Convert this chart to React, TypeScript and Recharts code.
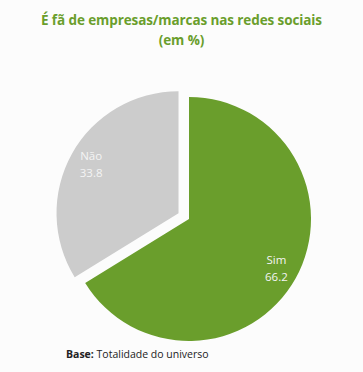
import * as React from 'react';
import {PieChart, Pie, Cell, Sector} from 'recharts';

const categories = ['Sim', 'Não'];
const values = [66.2, 33.8];
const colors = ['#6a9e2c', '#cccccc'];
const explodedIndex = 1;

const data = categories.map((name, i) => ({name, value: values[i]}));

const RADIAN = Math.PI / 180;

const renderShape = (props: any) => {
    const {cx, cy, midAngle, index} = props;
    let dx = 0;
    let dy = 0;
    if (index === explodedIndex) {
        dx = 12 * Math.cos(-midAngle * RADIAN);
        dy = 12 * Math.sin(-midAngle * RADIAN);
    }
    return <Sector {...props} cx={cx + dx} cy={cy + dy} stroke="none" />;
};

const renderLabel = (props: any) => {
    const {cx, cy, midAngle, outerRadius, index, name, value} = props;
    let ox = cx;
    let oy = cy;
    if (index === explodedIndex) {
        ox += 12 * Math.cos(-midAngle * RADIAN);
        oy += 12 * Math.sin(-midAngle * RADIAN);
    }
    const r = outerRadius * 0.82;
    const x = ox + r * Math.cos(-midAngle * RADIAN);
    const y = oy + r * Math.sin(-midAngle * RADIAN);
    return (
        <g>
            <text x={x} y={y - 4} fill="#f4f4f4" textAnchor="middle" fontSize={11.5} fontFamily="'Open Sans', sans-serif">
                {name}
            </text>
            <text x={x} y={y + 13} fill="#f4f4f4" textAnchor="middle" fontSize={11.5} fontFamily="'Open Sans', sans-serif">
                {value.toFixed(1)}
            </text>
        </g>
    );
};

export default function App() {
    return (
        <div style={{position: 'absolute', left: 0, top: 0, width: 363, height: 372, background: '#fcfcfc', overflow: 'hidden'}}>
            <div style={{position: 'absolute', left: 0, top: 10, width: 363, textAlign: 'center', color: '#6a9e2c',
                fontFamily: "'Open Sans', sans-serif", fontWeight: 700, fontSize: 13.5, lineHeight: '20px', letterSpacing: -0.1}}>
                É fã de empresas/marcas nas redes sociais<br />(em %)
            </div>
            <PieChart width={363} height={372} style={{position: 'absolute', left: 0, top: 0}}>
                <Pie
                    data={data}
                    dataKey="value"
                    nameKey="name"
                    cx={184}
                    cy={214}
                    outerRadius={122}
                    startAngle={90}
                    endAngle={-270}
                    stroke="none"
                    labelLine={false}
                    label={renderLabel}
                    shape={renderShape}
                    isAnimationActive={false}
                >
                    {data.map((d, i) => <Cell key={d.name} fill={colors[i]} />)}
                </Pie>
            </PieChart>
            <div style={{position: 'absolute', left: 66, top: 347, fontFamily: "'Open Sans', sans-serif", fontSize: 10.5, color: '#222'}}>
                <b>Base:</b> Totalidade do universo
            </div>
        </div>
    );
}
